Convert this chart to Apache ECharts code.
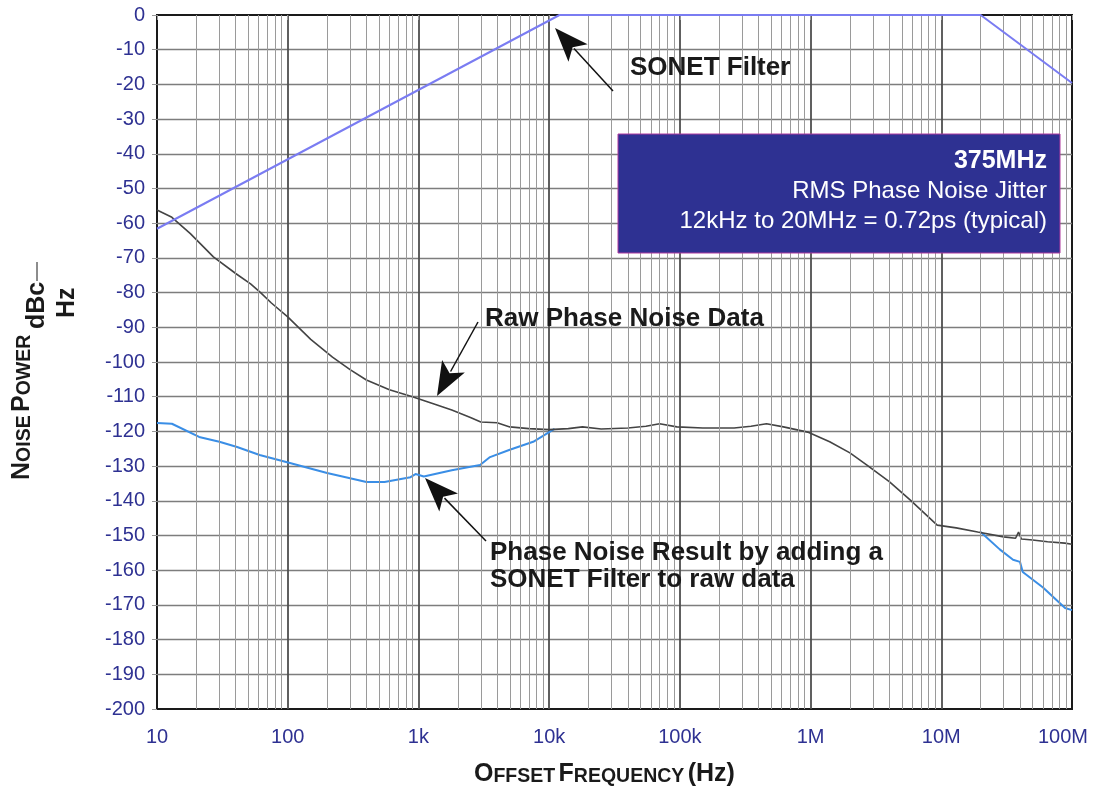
<!DOCTYPE html>
<html>
<head>
<meta charset="utf-8">
<title>375MHz Phase Noise</title>
<script src="https://cdn.jsdelivr.net/npm/echarts@6/dist/echarts.min.js"></script>
<style>
html, body { margin: 0; padding: 0; background: #fff; }
#chart { width: 1096px; height: 790px; }
</style>
</head>
<body>
<div id="chart"></div>
<script>
// offset frequency ticks (Hz) and their labels
const freqTicks = [10, 100, 1e3, 1e4, 1e5, 1e6, 1e7, 1e8]
const freqLabels = ['10', '100', '1k', '10k', '100k', '1M', '10M', '100M']

// SONET filter mask, [Hz, dBc/Hz]
const sonetFilter = [[10, -61.6], [12000, 0], [20e6, 0], [1e8, -19.6]]

// raw phase noise, [Hz, dBc/Hz]
const rawNoise = [
  [10, -56.2], [13, -58.3], [18, -63], [27, -69.7], [40, -74.5], [52, -77.5],
  [62, -80], [75, -83], [100, -87], [150, -93.5], [220, -98.6], [300, -102.2],
  [400, -105.2], [600, -108], [900, -110], [1300, -112], [1800, -113.8],
  [2500, -116], [3000, -117.3], [4000, -117.5], [5000, -118.7], [7000, -119.2],
  [10000, -119.5], [14000, -119.2], [18000, -118.7], [25000, -119.3],
  [40000, -119], [55000, -118.5], [70000, -117.8], [95000, -118.7],
  [150000, -119], [260000, -119], [350000, -118.5], [460000, -117.8],
  [620000, -118.7], [950000, -120.2], [1.4e6, -123], [2e6, -126.2],
  [2.7e6, -129.7], [4e6, -134.5], [5.8e6, -139.8], [9.3e6, -147],
  [13e6, -147.8], [19e6, -149], [30e6, -150.4], [37e6, -150.8], [39e6, -149],
  [41e6, -151], [50e6, -151.3], [65e6, -151.8], [88e6, -152.2], [1e8, -152.5]
]

// result with SONET filter applied (where it differs from the raw curve)
const filteredLow = [
  [10, -117.6], [13, -117.8], [21, -121.6], [30, -123], [41, -124.5],
  [61, -126.8], [104, -129.1], [200, -132], [300, -133.5], [400, -134.6],
  [550, -134.6], [870, -133.2], [950, -132.3], [1100, -133], [1800, -131.2],
  [2960, -129.7], [3530, -127.4], [5000, -125.3], [7550, -123], [11000, -119.3]
]
const filteredHigh = [
  [20e6, -149], [28e6, -154], [35.4e6, -157], [40e6, -157.6], [42e6, -160.5],
  [60e6, -165], [88.5e6, -170.9], [1e8, -171.5]
]

const font = '"Liberation Sans", Arial, Helvetica, sans-serif'
const tickBlue = '#2e3192'

// minor log grid lines (2..9 in each decade)
const minorLines = []
for (let e = 1; e < 8; e++) {
  for (let k = 2; k < 10; k++) minorLines.push({ xAxis: k * Math.pow(10, e) })
}

function arrow(tail, tip) {
  const dx = tip[0] - tail[0]
  const dy = tip[1] - tail[1]
  const len = Math.hypot(dx, dy)
  const ux = dx / len
  const uy = dy / len
  const hl = 34
  const hw = 13
  const bx = tip[0] - ux * hl
  const by = tip[1] - uy * hl
  return [
    {
      type: 'line', z: 100,
      shape: { x1: tail[0], y1: tail[1], x2: bx + ux * 6, y2: by + uy * 6 },
      style: { stroke: '#111', lineWidth: 1.5 }
    },
    {
      type: 'polygon', z: 100,
      shape: { points: [tip, [bx - uy * hw, by + ux * hw], [bx + ux * 8, by + uy * 8], [bx + uy * hw, by - ux * hw]] },
      style: { fill: '#111' }
    }
  ]
}

function label(text, x, y, size, weight, color, align) {
  return {
    type: 'text', z: 100, x: x, y: y,
    style: {
      text: text, fill: color || '#1a1a1a', font: (weight || 'bold') + ' ' + size + 'px ' + font,
      align: align || 'left', verticalAlign: 'middle'
    }
  }
}

const smallCaps = {
  a: { fontSize: 25, fontWeight: 'bold', fontFamily: font, fill: '#1a1a1a', verticalAlign: 'bottom' },
  b: { fontSize: 19.5, fontWeight: 'bold', fontFamily: font, fill: '#1a1a1a', verticalAlign: 'bottom' }
}

const chart = echarts.init(document.getElementById('chart'))
chart.setOption({
  animation: false,
  backgroundColor: '#fff',
  textStyle: { fontFamily: font },
  grid: {
    left: 157, right: 24, top: 15, bottom: 81,
    show: true, borderColor: '#1a1a1a', borderWidth: 2, backgroundColor: 'transparent'
  },
  xAxis: {
    type: 'log', logBase: 10, min: 10, max: 1e8,
    axisLine: { show: false },
    axisTick: { show: true, length: 5, lineStyle: { color: '#999' } },
    axisLabel: {
      color: tickBlue, fontSize: 20, margin: 18,
      formatter: function (v) {
        const i = Math.round(Math.log10(v)) - 1
        const t = freqLabels[i]
        return i === freqLabels.length - 1 ? '{last|' + t + '}' : t
      },
      rich: { last: { color: tickBlue, fontSize: 20, fontFamily: font, padding: [0, 18, 0, 0] } }
    },
    splitLine: { show: true, showMinLine: false, showMaxLine: false, lineStyle: { color: '#4f4f4f', width: 1.8 } }
  },
  yAxis: {
    type: 'value', min: -200, max: 0, interval: 10,
    axisLine: { show: false },
    axisTick: { show: true, length: 5, lineStyle: { color: '#999' } },
    axisLabel: { color: tickBlue, fontSize: 20, margin: 12 },
    splitLine: { show: true, showMinLine: false, showMaxLine: false, lineStyle: { color: '#7d7d7d', width: 1.4 } }
  },
  series: [
    {
      name: 'grid', type: 'line', data: [], z: 1, silent: true,
      markLine: {
        silent: true, symbol: 'none', label: { show: false },
        lineStyle: { color: '#9a9a9a', width: 1, type: 'solid' },
        emphasis: { disabled: true },
        data: minorLines
      }
    },
    {
      name: 'Phase Noise Result', type: 'line', data: filteredLow, z: 3,
      showSymbol: false, lineStyle: { color: '#3a8ee6', width: 2 }
    },
    {
      name: 'Phase Noise Result', type: 'line', data: filteredHigh, z: 3,
      showSymbol: false, lineStyle: { color: '#3a8ee6', width: 2 }
    },
    {
      name: 'Raw Phase Noise Data', type: 'line', data: rawNoise, z: 4,
      showSymbol: false, lineStyle: { color: '#444', width: 1.6 }
    },
    {
      name: 'SONET Filter', type: 'line', data: sonetFilter, z: 5,
      showSymbol: false, lineStyle: { color: '#7a7cf2', width: 2 }
    }
  ],
  graphic: [
    // jitter box
    {
      type: 'rect', z: 90,
      shape: { x: 618, y: 134, width: 442, height: 119 },
      style: { fill: '#2e3192', stroke: '#b03aa0', lineWidth: 1 }
    },
    label('375MHz', 1047, 161, 25, 'bold', '#fff', 'right'),
    label('RMS Phase Noise Jitter', 1047, 191, 24, 'normal', '#fff', 'right'),
    label('12kHz to 20MHz = 0.72ps (typical)', 1047, 221, 24, 'normal', '#fff', 'right'),
    // annotations
    label('SONET Filter', 630, 68, 26),
    label('Raw Phase Noise Data', 485, 319, 26),
    label('Phase Noise Result by adding a', 490, 553, 26),
    label('SONET Filter to raw data', 490, 580, 26),
    ...arrow([613, 91], [555, 28]),
    ...arrow([478, 322], [437, 396]),
    ...arrow([486, 541], [425, 478]),
    // axis titles
    {
      type: 'text', z: 100, x: 474, y: 774,
      style: { text: '{a|O}{b|FFSET} {a|F}{b|REQUENCY} {a|(Hz)}', rich: smallCaps, align: 'left', verticalAlign: 'middle' }
    },
    {
      type: 'text', z: 100, x: 22, y: 480, rotation: Math.PI / 2,
      style: { text: '{a|N}{b|OISE} {a|P}{b|OWER}', rich: smallCaps, align: 'left', verticalAlign: 'middle' }
    },
    {
      type: 'text', z: 100, x: 37, y: 329, rotation: Math.PI / 2,
      style: { text: 'dBc', font: 'bold 25px ' + font, fill: '#1a1a1a', align: 'left', verticalAlign: 'middle' }
    },
    {
      type: 'line', z: 100,
      shape: { x1: 37, y1: 281, x2: 37, y2: 262 },
      style: { stroke: '#1a1a1a', lineWidth: 1 }
    },
    {
      type: 'text', z: 100, x: 67, y: 318, rotation: Math.PI / 2,
      style: { text: 'Hz', font: 'bold 25px ' + font, fill: '#1a1a1a', align: 'left', verticalAlign: 'middle' }
    }
  ]
})
</script>
</body>
</html>
